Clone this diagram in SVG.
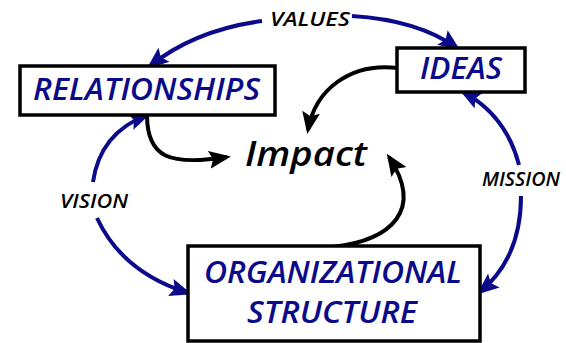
<svg xmlns="http://www.w3.org/2000/svg" width="566" height="343" viewBox="0 0 566 343">
<defs>
<marker id="navyHead" markerUnits="userSpaceOnUse" markerWidth="24" markerHeight="20" refX="18" refY="9" orient="auto">
<path d="M0,0 L22,9 L0,18 L4,9 z" fill="#0a0a8a"/>
</marker>
<marker id="blackHead" markerUnits="userSpaceOnUse" markerWidth="24" markerHeight="20" refX="18" refY="9" orient="auto">
<path d="M0,0 L22,9 L0,18 L4,9 z" fill="#000"/>
</marker>
</defs>
<style>
.box{fill:#fff;stroke:#000;stroke-width:3.5}
.node{font-family:"Open Sans","DejaVu Sans",sans-serif;font-style:italic;font-weight:600;fill:#0a0a8a}
.lbl{font-family:"Open Sans","DejaVu Sans",sans-serif;font-style:italic;font-weight:600;fill:#000;font-size:19px}
.nav{fill:none;stroke:#0a0a8a;stroke-width:4;marker-end:url(#navyHead)}
.blk{fill:none;stroke:#000;stroke-width:4;marker-end:url(#blackHead)}
</style>
<g id="connectors">
<path class="nav" d="M262 21 Q195 30 150 66"/>
<path class="nav" d="M352 16 Q418 20 457 48"/>
<path class="nav" d="M93 182 Q100 133 147 115"/>
<path class="nav" d="M97 218 Q122 272 188 293"/>
<path class="nav" d="M519 165 Q506 115 463 92"/>
<path class="nav" d="M521 196 Q521 258 480 292"/>
<path class="blk" d="M147 115 C147 158 170 166 227 157"/>
<path class="blk" d="M398 68 C350 62 315 90 308 130"/>
<path class="blk" d="M333 247 C392 240 424 210 389 157"/>
</g>
<g id="relationships">
<rect class="box" x="20" y="66" width="255" height="49"/>
<text class="node" x="33" y="100" font-size="31" textLength="227" lengthAdjust="spacingAndGlyphs">RELATIONSHIPS</text>
</g>
<g id="ideas">
<rect class="box" x="397" y="48" width="128" height="44"/>
<text class="node" x="420" y="79" font-size="30" textLength="82" lengthAdjust="spacingAndGlyphs">IDEAS</text>
</g>
<g id="organizational-structure">
<rect class="box" x="188" y="246" width="292" height="95"/>
<text class="node" x="204" y="283" font-size="30" textLength="258" lengthAdjust="spacingAndGlyphs">ORGANIZATIONAL</text>
<text class="node" x="247" y="323" font-size="30" textLength="170" lengthAdjust="spacingAndGlyphs">STRUCTURE</text>
</g>
<g id="impact">
<text x="245" y="166" font-family="Open Sans, DejaVu Sans, sans-serif" font-style="italic" font-weight="600" font-size="35" fill="#000" textLength="122" lengthAdjust="spacingAndGlyphs">Impact</text>
</g>
<g id="labels">
<text class="lbl" x="270" y="26" textLength="80" lengthAdjust="spacingAndGlyphs">VALUES</text>
<text class="lbl" x="60" y="208" textLength="68" lengthAdjust="spacingAndGlyphs">VISION</text>
<text class="lbl" x="482" y="186" textLength="78" lengthAdjust="spacingAndGlyphs">MISSION</text>
</g>
</svg>
